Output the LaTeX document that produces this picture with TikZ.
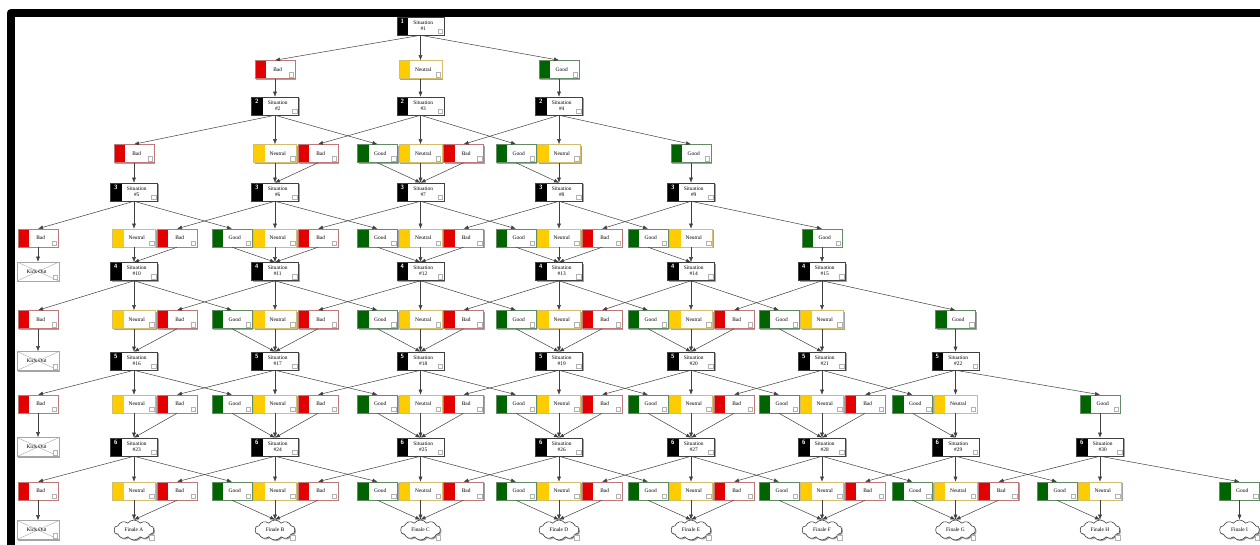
\documentclass[tikz,border=0pt]{standalone}
\usepackage{fontspec}
\setmainfont{Liberation Serif}
\usetikzlibrary{shapes.symbols,shadows,arrows.meta}

\definecolor{badred}{RGB}{226,0,0}
\definecolor{neuyellow}{RGB}{255,204,0}
\definecolor{goodgreen}{RGB}{0,100,0}
\definecolor{badedge}{RGB}{190,120,120}
\definecolor{neuedge}{RGB}{210,190,110}
\definecolor{goodedge}{RGB}{100,140,100}

% column centres and row heights of the story map
\def\ColX{{38,134,275,420.5,559,691,822,955.5,1100,1239.5}}
\def\SitY{{0,26,106,192,271.5,361,447,530}}
\def\ChoiceY{{0,69.5,153.5,238,319.5,404,491}}
\def\SitLow{{0,3,2,1,1,1,1}}
\def\SitHigh{{0,3,4,5,6,7,8}}
\def\SitFirst{{0,1,2,5,10,16,23}}

\tikzset{
  every node/.style={font=\fontsize{5.4}{6.4}\selectfont},
  corner/.style={draw=gray!60, fill=white, line width=0.35pt},
  card/.style={rectangle, fill=white, inner sep=0pt, minimum height=18pt, line width=0.55pt,
    drop shadow={shadow xshift=1.2pt, shadow yshift=-1.2pt, fill=black!60, opacity=0.6}},
  tabbed/.style={card, path picture={
      \fill[#1] (path picture bounding box.north west) rectangle ([xshift=11pt]path picture bounding box.south west);
      \draw[corner] ([xshift=-1.5pt,yshift=1.5pt]path picture bounding box.south east) rectangle ++(-4.5pt,4.5pt);}},
  bad/.style={tabbed=badred, draw=badedge, minimum width=40pt},
  neutral/.style={tabbed=neuyellow, draw=neuedge, minimum width=43pt},
  good/.style={tabbed=goodgreen, draw=goodedge, minimum width=40pt},
  situation/.style={card, draw=black!75, minimum width=47pt, path picture={
      \fill[black] (path picture bounding box.north west) rectangle ([xshift=11pt]path picture bounding box.south west);
      \node[text=white, font=\sffamily\bfseries\fontsize{6.2}{6.2}\selectfont, inner sep=0pt]
        at ([xshift=5.3pt,yshift=-4pt]path picture bounding box.north west) {#1};
      \draw[corner] ([xshift=-1.5pt,yshift=1.5pt]path picture bounding box.south east) rectangle ++(-4.5pt,4.5pt);}},
  kickout/.style={card, draw=gray!70, minimum width=42pt, minimum height=19pt, path picture={
      \draw[gray!70, line width=0.4pt] (path picture bounding box.north west) -- (path picture bounding box.south east)
        (path picture bounding box.south west) -- (path picture bounding box.north east);
      \draw[corner] ([xshift=-1.5pt,yshift=1.5pt]path picture bounding box.south east) rectangle ++(-4.5pt,4.5pt);}},
  finale/.style={cloud, cloud puffs=10, cloud puff arc=110, cloud ignores aspect, draw=black!80, fill=white,
    minimum width=40pt, minimum height=20pt, inner sep=0pt, line width=0.55pt,
    drop shadow={shadow xshift=1.2pt, shadow yshift=-1.2pt, fill=black!60, opacity=0.6}},
  link/.style={draw=black!75, line width=0.5pt, -{Latex[length=5pt,width=4pt]}},
}

\begin{document}
\begin{tikzpicture}[x=1pt, y=-1pt]
\useasboundingbox (0,0) rectangle (1260,545);
\fill[white] (0,0) rectangle (1260,545);

% window frame
\draw[line width=8.3pt, line join=round] (10.8,600) -- (10.8,13.2) -- (1300,13.2);

% situations, levels 1 to 6
\foreach \lev in {1,...,6}{
  \pgfmathtruncatemacro\lowc{\SitLow[\lev]}
  \pgfmathtruncatemacro\highc{\SitHigh[\lev]}
  \pgfmathtruncatemacro\firstn{\SitFirst[\lev]}
  \pgfmathsetmacro\ys{\SitY[\lev]}
  \foreach \col in {\lowc,...,\highc}{
    \pgfmathsetmacro\xs{\ColX[\col]}
    \pgfmathtruncatemacro\num{\firstn+\col-\lowc}
    \node[situation=\lev] (s\lev-\col) at (\xs,\ys)
      {\hspace*{5.4pt}\begin{tabular}{@{}c@{}}Situation\\\#\num\end{tabular}};
  }
}

% dead ends in the first column
\foreach \lev in {4,...,7}{
  \pgfmathsetmacro\ys{\SitY[\lev]}
  \node[kickout] (s\lev-0) at (38,\ys) {Kick Out\hspace*{3pt}};
}

% endings
\foreach \col/\lt in {1/A,2/B,3/C,4/D,5/E,6/F,7/G,8/H,9/I}{
  \pgfmathsetmacro\xs{\ColX[\col]}
  \node[finale] (s7-\col) at (\xs,530) {Finale \lt};
  \path (s7-\col.east |- s7-\col.south) coordinate (fc\col);
  \draw[corner] ([shift={(-0.3pt,0.3pt)}]fc\col) rectangle ++(-4.5pt,4.5pt);
}

% choices after each situation and the links through them
\foreach \lev in {1,...,6}{
  \pgfmathtruncatemacro\lowc{\SitLow[\lev]}
  \pgfmathtruncatemacro\highc{\SitHigh[\lev]}
  \pgfmathtruncatemacro\nextlev{\lev+1}
  \pgfmathsetmacro\yc{\ChoiceY[\lev]}
  \foreach \col in {\lowc,...,\highc}{
    \pgfmathtruncatemacro\cb{\col-1}
    \pgfmathtruncatemacro\cg{\col+1}
    \pgfmathsetmacro\xb{\ColX[\cb]+((\cb>=\lowc) ? 43 : 0)}
    \pgfmathsetmacro\xn{\ColX[\col]}
    \pgfmathsetmacro\xg{\ColX[\cg]-((\cg<=\highc) ? 43 : 0)}
    \node[bad] (b\lev-\col) at (\xb,\yc) {\hspace*{5.4pt}Bad};
    \node[neutral] (n\lev-\col) at (\xn,\yc) {\hspace*{5.4pt}Neutral};
    \node[good] (g\lev-\col) at (\xg,\yc) {\hspace*{5.4pt}Good};
    \draw[link] (s\lev-\col.south) -- (b\lev-\col.north);
    \draw[link] (s\lev-\col.south) -- (n\lev-\col.north);
    \draw[link] (s\lev-\col.south) -- (g\lev-\col.north);
    \draw[link] (b\lev-\col.south) -- (s\nextlev-\cb.north);
    \draw[link] (n\lev-\col.south) -- (s\nextlev-\col.north);
    \draw[link] (g\lev-\col.south) -- (s\nextlev-\cg.north);
  }
}
\end{tikzpicture}
\end{document}
